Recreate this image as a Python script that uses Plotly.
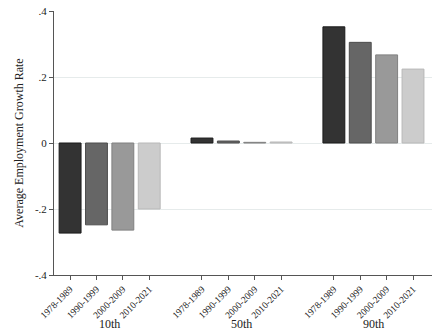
import plotly.graph_objects as go

# Data: average employment growth rate by wage percentile and period
groups = ["10th", "50th", "90th"]
periods = ["1978-1989", "1990-1999", "2000-2009", "2010-2021"]
growth_10th = [-0.273, -0.248, -0.264, -0.200]
growth_50th = [0.015, 0.006, 0.002, 0.003]
growth_90th = [0.352, 0.305, 0.267, 0.224]
y_ticks = [-0.4, -0.2, 0.0, 0.2, 0.4]
y_tick_labels = ["-.4", "-.2", "0", ".2", ".4"]

fills = ["#333333", "#666666", "#999999", "#cccccc"]
edges = ["#1a1a1a", "#4d4d4d", "#808080", "#b8b8b8"]

series = [growth_10th, growth_50th, growth_90th]
xs, ys, fc, lc, tl = [], [], [], [], []
for gi, vals in enumerate(series):
    for pi, v in enumerate(vals):
        xs.append(gi * 5 + pi)
        ys.append(v)
        fc.append(fills[pi])
        lc.append(edges[pi])
        tl.append(periods[pi])

font = "Liberation Serif, Times New Roman, serif"

fig = go.Figure(go.Bar(
    x=xs, y=ys, width=0.83,
    marker=dict(color=fc, line=dict(color=lc, width=1)),
    showlegend=False,
))

annotations = []
for gi, g in enumerate(groups):
    annotations.append(dict(
        x=gi * 5 + 1.5, y=0, xref="x", yref="paper", yshift=-41,
        text=g, showarrow=False, yanchor="top", borderpad=0,
        font=dict(family=font, size=12, color="#222"),
    ))

fig.update_layout(
    width=443, height=332,
    margin=dict(l=54, r=11, t=11, b=57),
    paper_bgcolor="white", plot_bgcolor="white",
    font=dict(family=font, color="#222"),
    annotations=annotations,
    xaxis=dict(
        range=[-0.61, 13.72], tickmode="array", tickvals=xs, ticktext=tl,
        tickangle=-45, tickfont=dict(size=9.5, family=font, color="#222"),
        showline=True, linecolor="#555", linewidth=1,
        ticks="outside", ticklen=4, tickcolor="#555",
        showgrid=False, zeroline=False, automargin=False,
    ),
    yaxis=dict(
        range=[-0.4, 0.4], tickmode="array", tickvals=y_ticks,
        ticktext=y_tick_labels, tickfont=dict(size=11, family=font, color="#222"),
        showline=True, linecolor="#555", linewidth=1,
        ticks="outside", ticklen=4, tickcolor="#555",
        showgrid=True, gridcolor="#e6ebeb", gridwidth=1,
        zeroline=False, automargin=False,
        title=dict(text="Average Employment Growth Rate",
                   font=dict(size=12, family=font, color="#222"), standoff=8),
    ),
)

fig.write_html("out.html")
